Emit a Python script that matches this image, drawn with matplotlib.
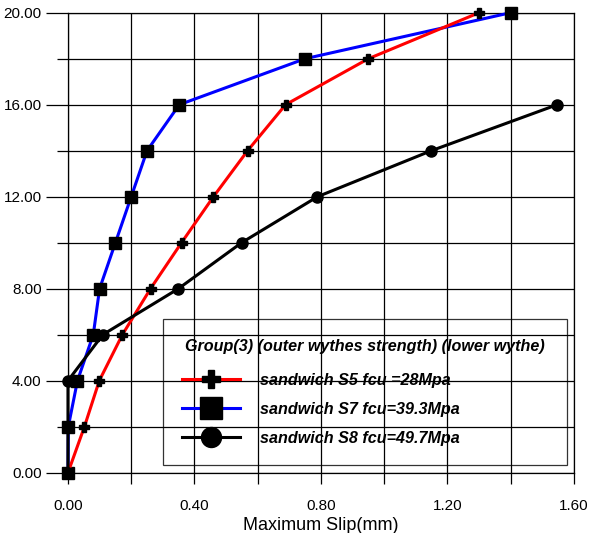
import matplotlib.pyplot as plt
from matplotlib.ticker import MultipleLocator, FormatStrFormatter

plt.rcParams['font.family'] = ['Liberation Sans', 'DejaVu Sans']

# datos
carga = [0, 2, 4, 6, 8, 10, 12, 14, 16, 18, 20]
slip_s5 = [0.0, 0.052, 0.099, 0.172, 0.261, 0.359, 0.46, 0.568, 0.688, 0.95, 1.3]
slip_s7 = [0.0, 0.001, 0.03, 0.08, 0.10, 0.15, 0.20, 0.25, 0.352, 0.75, 1.4]
carga_s8 = [0, 2, 4, 6, 8, 10, 12, 14, 16]
slip_s8 = [0.0, 0.0, 0.0, 0.11, 0.349, 0.549, 0.789, 1.149, 1.547]

nombres = ['sandwich S5 fcu =28Mpa', 'sandwich S7 fcu=39.3Mpa', 'sandwich S8 fcu=49.7Mpa']
titulo_leyenda = 'Group(3) (outer wythes strength) (lower wythe)'

fig = plt.figure(figsize=(5.89, 5.33), dpi=100)
ax = fig.add_axes([0.1154, 0.1131, 0.8591, 0.8631])

ax.plot(slip_s5, carga, color='red', lw=2.2, marker='P', ms=7.5, mfc='black', mec='black',
        label=nombres[0], zorder=4, clip_on=False)
ax.plot(slip_s7, carga, color='blue', lw=2.2, marker='s', ms=9, mfc='black', mec='black',
        label=nombres[1], zorder=3, clip_on=False)
ax.plot(slip_s8, carga_s8, color='black', lw=2.2, marker='o', ms=8, mfc='black', mec='black',
        label=nombres[2], zorder=5, clip_on=False)

ax.set_xlim(0, 1.6)
ax.set_ylim(0, 20)
ax.xaxis.set_major_locator(MultipleLocator(0.4))
ax.xaxis.set_minor_locator(MultipleLocator(0.2))
ax.yaxis.set_major_locator(MultipleLocator(4))
ax.yaxis.set_minor_locator(MultipleLocator(2))
ax.xaxis.set_major_formatter(FormatStrFormatter('%.2f'))
ax.yaxis.set_major_formatter(FormatStrFormatter('%.2f'))
ax.grid(which='both', color='black', lw=0.9)
ax.tick_params(which='major', axis='y', length=16, width=0.9, labelsize=11, pad=3)
ax.tick_params(which='minor', axis='y', length=8, width=0.9)
ax.tick_params(which='both', axis='x', length=8, width=0.9, labelsize=11, pad=11)
for s in ax.spines.values():
    s.set_linewidth(0.9)

ax.set_xlabel('Maximum Slip(mm)', fontsize=13, va='top')
ax.xaxis.set_label_coords(0.5, -0.097)

leg = ax.legend(loc='lower left', bbox_to_anchor=(0.188, 0.0167, 0.798, 0.317), mode='expand',
                borderaxespad=0, frameon=True, fancybox=False, facecolor='none', edgecolor='black',
                prop={'weight': 'bold', 'style': 'italic', 'size': 11.6},
                title=titulo_leyenda, title_fontproperties={'weight': 'bold', 'style': 'italic', 'size': 11.6},
                markerscale=1.8, handlelength=3.6, handletextpad=1.2, labelspacing=0.87, borderpad=1.2)
leg.get_frame().set_linewidth(0.9)
leg._legend_box.sep = 13.7  # mas espacio entre titulo y entradas
leg.set_zorder(6)

plt.savefig('out.png', dpi=100)
